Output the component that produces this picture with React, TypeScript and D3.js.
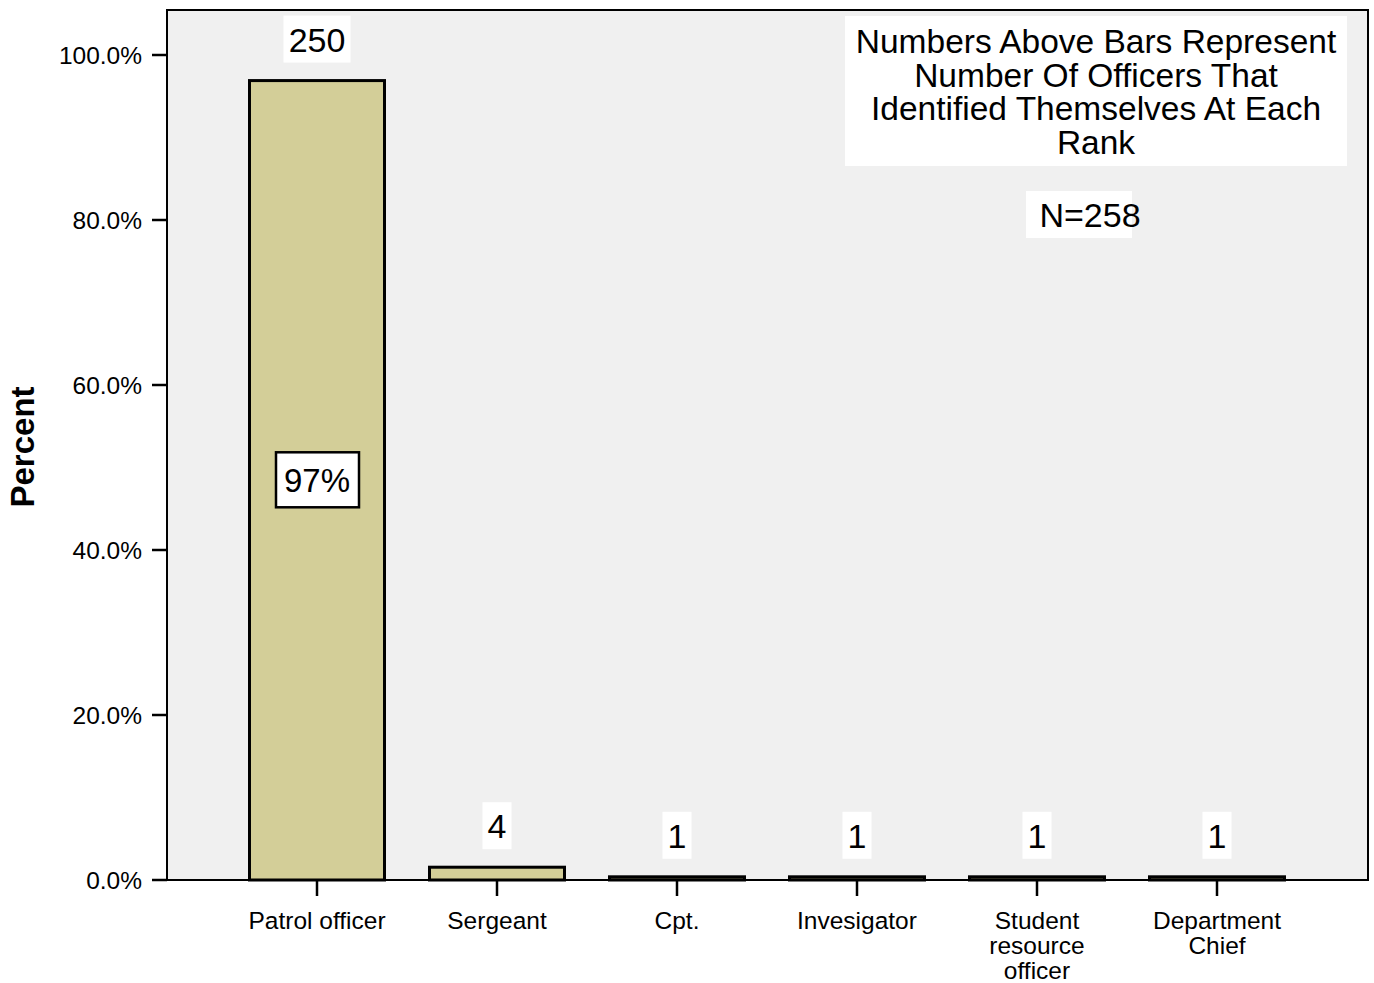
import React from "react";
import * as d3 from "d3";

const categories: string[][] = [
  ["Patrol officer"],
  ["Sergeant"],
  ["Cpt."],
  ["Invesigator"],
  ["Student", "resource", "officer"],
  ["Department", "Chief"],
];
const counts: number[] = [250, 4, 1, 1, 1, 1];
const total = 258;
const yTicks: number[] = [0, 20, 40, 60, 80, 100];
const noteLines: string[] = [
  "Numbers Above Bars Represent",
  "Number Of Officers That",
  "Identified Themselves At Each",
  "Rank",
];
const nLabel = "N=258";
const pctLabel = "97%";

const W = 1374;
const H = 983;
const FONT = "'Liberation Sans', Arial, sans-serif";

export default function App() {
  const frame = { left: 167, right: 1368, top: 10, bottom: 880 };
  const x = d3
    .scaleBand<number>()
    .domain(d3.range(categories.length))
    .range([227, 1307])
    .paddingInner(0.25)
    .paddingOuter(0.125);
  const y = d3.scaleLinear().domain([0, 100]).range([880, 55]);
  const pcts = counts.map((c) => (c / total) * 100);

  return (
    <svg width={W} height={H} style={{ position: "absolute", left: 0, top: 0 }} fontFamily={FONT}>
      <rect x={0} y={0} width={W} height={H} fill="#ffffff" />
      <rect
        x={frame.left}
        y={frame.top}
        width={frame.right - frame.left}
        height={frame.bottom - frame.top}
        fill="#f0f0f0"
        stroke="#000"
        strokeWidth={2}
      />
      {/* bars */}
      {pcts.map((p, i) => {
        const x0 = x(i)!;
        const top = y(p);
        return (
          <rect
            key={i}
            x={x0}
            y={top}
            width={x.bandwidth()}
            height={Math.max(y(0) - top, 0)}
            fill="#d3ce98"
            stroke="#000"
            strokeWidth={3}
          />
        );
      })}
      {/* count labels */}
      {counts.map((c, i) => {
        const cx = x(i)! + x.bandwidth() / 2;
        const top = y(pcts[i]);
        const boxBottom = top - 18;
        const s = String(c);
        const bw = s.length * 19 + 10;
        return (
          <g key={i}>
            <rect x={cx - bw / 2} y={boxBottom - 47} width={bw} height={47} fill="#fff" />
            <text x={cx} y={boxBottom - 11} textAnchor="middle" fontSize={34} fill="#000">
              {s}
            </text>
          </g>
        );
      })}
      {/* percent label inside first bar */}
      {(() => {
        const cx = x(0)! + x.bandwidth() / 2;
        const cy = y(pcts[0] / 2);
        return (
          <g>
            <rect x={cx - 41} y={cy - 28} width={83} height={55} fill="#fff" stroke="#000" strokeWidth={2.5} />
            <text x={cx} y={cy + 12} textAnchor="middle" fontSize={33} fill="#000">
              {pctLabel}
            </text>
          </g>
        );
      })()}
      {/* y axis ticks */}
      {yTicks.map((t) => (
        <g key={t}>
          <line x1={152} x2={frame.left} y1={y(t)} y2={y(t)} stroke="#000" strokeWidth={2.5} />
          <text x={142} y={y(t) + 9} textAnchor="end" fontSize={24.5} fill="#000">
            {t.toFixed(1) + "%"}
          </text>
        </g>
      ))}
      {/* x axis ticks and labels */}
      {categories.map((lines, i) => {
        const cx = x(i)! + x.bandwidth() / 2;
        return (
          <g key={i}>
            <line x1={cx} x2={cx} y1={frame.bottom} y2={896} stroke="#000" strokeWidth={2.5} />
            <text textAnchor="middle" fontSize={24.5} fill="#000">
              {lines.map((l, j) => (
                <tspan key={j} x={cx} y={929 + j * 25}>
                  {l}
                </tspan>
              ))}
            </text>
          </g>
        );
      })}
      {/* y axis title */}
      <text
        transform="translate(34,447) rotate(-90)"
        textAnchor="middle"
        fontSize={33}
        fontWeight="bold"
        fill="#000"
      >
        Percent
      </text>
      {/* note box */}
      <rect x={845} y={16} width={502} height={150} fill="#fff" />
      <text textAnchor="middle" fontSize={33.5} fill="#000">
        {noteLines.map((l, j) => (
          <tspan key={j} x={1096} y={53 + j * 33.5}>
            {l}
          </tspan>
        ))}
      </text>
      <rect x={1026} y={191} width={106} height={47} fill="#fff" />
      <text x={1090} y={227} textAnchor="middle" fontSize={34} fill="#000">
        {nLabel}
      </text>
    </svg>
  );
}
